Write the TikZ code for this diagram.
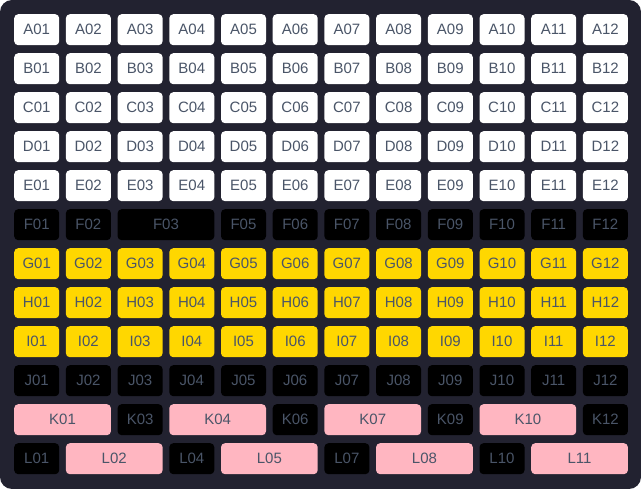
\documentclass[tikz,border=0pt]{standalone}
\usepackage{fontspec}
\setmainfont{Liberation Sans}
\usetikzlibrary{positioning}
\definecolor{panelbg}{HTML}{222230}
\definecolor{labelgray}{HTML}{4A5568}
\definecolor{cellgold}{HTML}{FFD700}
\definecolor{cellpink}{HTML}{FFB6C1}
\newcommand{\colx}[1]{14+51.7*#1}
\newcommand{\rowy}[1]{14+39*#1}

\begin{document}
\begin{tikzpicture}[x=1pt,y=-1pt,
  cell/.style={anchor=north west,rounded corners=4pt,inner sep=0pt,
    minimum width=45pt,minimum height=31pt,text=labelgray,
    font=\fontsize{15}{15}\selectfont},
  wide/.style={cell,minimum width=96.7pt},
  whitecell/.style={fill=white},
  blackcell/.style={fill=black},
  goldcell/.style={fill=cellgold},
  pinkcell/.style={fill=cellpink}]
  \useasboundingbox (0,0) rectangle (641,489);
  \fill[white] (0,0) rectangle (641,489);
  \fill[panelbg,rounded corners=12pt] (0,0) rectangle (641,489);
  % plain rows
  \foreach \r/\i/\kind in {A/0/whitecell,B/1/whitecell,C/2/whitecell,D/3/whitecell,E/4/whitecell,
                           G/6/goldcell,H/7/goldcell,I/8/goldcell,J/9/blackcell}
    \foreach \c [count=\j from 0] in {01,02,03,04,05,06,07,08,09,10,11,12}
      \node[cell,\kind] (\r\c) at ({\colx{\j}},{\rowy{\i}}) {\r\c};
  % row F
  \foreach \j/\c/\w in {0/01/cell,1/02/cell,2/03/wide,4/05/cell,5/06/cell,6/07/cell,
                        7/08/cell,8/09/cell,9/10/cell,10/11/cell,11/12/cell}
    \node[\w,blackcell] (F\c) at ({\colx{\j}},{\rowy{5}}) {F\c};
  % row K
  \foreach \j/\c/\w/\kind in {0/01/wide/pinkcell,2/03/cell/blackcell,3/04/wide/pinkcell,
                              5/06/cell/blackcell,6/07/wide/pinkcell,8/09/cell/blackcell,
                              9/10/wide/pinkcell,11/12/cell/blackcell}
    \node[\w,\kind] (K\c) at ({\colx{\j}},{\rowy{10}}) {K\c};
  % row L
  \foreach \j/\c/\w/\kind in {0/01/cell/blackcell,1/02/wide/pinkcell,3/04/cell/blackcell,
                              4/05/wide/pinkcell,6/07/cell/blackcell,7/08/wide/pinkcell,
                              9/10/cell/blackcell,10/11/wide/pinkcell}
    \node[\w,\kind] (L\c) at ({\colx{\j}},{\rowy{11}}) {L\c};
\end{tikzpicture}
\end{document}
